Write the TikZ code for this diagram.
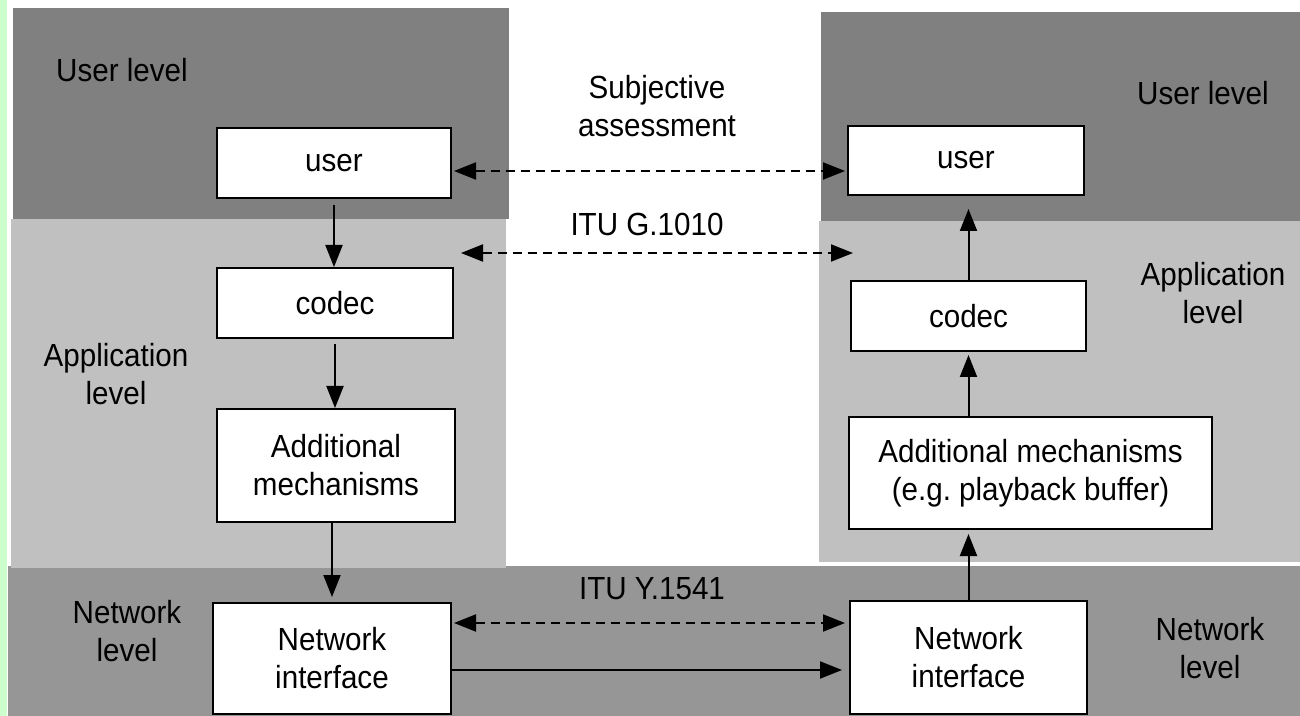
\documentclass[tikz,border=0pt]{standalone}
\usepackage{fontspec}
\setmainfont{Liberation Sans}[FakeStretch=0.925]
\usetikzlibrary{arrows.meta}
\definecolor{userband}{HTML}{808080}
\definecolor{appband}{HTML}{C0C0C0}
\definecolor{netband}{HTML}{969696}
\definecolor{greenstrip}{HTML}{CCFFCC}
\frenchspacing
\begin{document}
\begin{tikzpicture}[x=0.5pt,y=-0.5pt,
  font=\fontsize{16pt}{19pt}\selectfont,
  box/.style={draw=black, line width=1pt, fill=white, align=center, inner sep=0pt},
  conn/.style={line width=1pt, -{Triangle[length=11pt,width=8.5pt]}},
  dconn/.style={line width=1pt, dash pattern=on 4.5pt off 3pt,
     {Triangle[length=11pt,width=8.5pt]}-{Triangle[length=11pt,width=8.5pt]}},
  lbl/.style={align=center, inner sep=0pt}]
\useasboundingbox (0,0) rectangle (1300,716);
% background and bands
\fill[white] (0,0) rectangle (1300,716);
\fill[greenstrip] (0,0) rectangle (7,716);
\fill[netband] (8,566) rectangle (1300,716);
\fill[userband] (13,8) rectangle (509,219);
\fill[appband] (11,219) rectangle (506,568);
\fill[userband] (821,12) rectangle (1300,221);
\fill[appband] (819,221) rectangle (1300,562);
% level labels
\node[lbl] (lul) at (122,70) {User level};
\node[lbl] (rul) at (1203,93) {User level};
\node[lbl] (lal) at (116,374.5) {Application\\level};
\node[lbl] (ral) at (1213,293) {Application\\level};
\node[lbl] (lnl) at (127,631) {Network\\level};
\node[lbl] (rnl) at (1210,648) {Network\\level};
% middle labels
\node[lbl] (subj) at (657,106) {Subjective\\assessment};
\node[lbl] (g1010) at (647,224) {ITU G.1010};
\node[lbl] (y1541) at (652,589) {ITU Y.1541};
% boxes left
\node[box, minimum width=117pt, minimum height=35pt] (lu) at (334,163) {user};
\node[box, minimum width=118pt, minimum height=35pt] (lc) at (335,303) {codec};
\node[box, minimum width=119pt, minimum height=56.5pt] (la) at (336,465.5) {Additional\\mechanisms};
\node[box, minimum width=119pt, minimum height=55.5pt] (lni) at (332,658.5) {Network\\interface};
% boxes right
\node[box, minimum width=118pt, minimum height=34.5pt] (ru) at (966,160.5) {user};
\node[box, minimum width=117.5pt, minimum height=35pt] (rc) at (968.5,316) {codec};
\node[box, minimum width=181.5pt, minimum height=56pt] (ra) at (1030.5,473) {Additional mechanisms\\(e.g. playback buffer)};
\node[box, minimum width=118.5pt, minimum height=56.5pt] (rni) at (968.5,657.5) {Network\\interface};
% coordinates for horizontal connectors
\coordinate (sa) at (650,171);
\coordinate (ga) at (461,253);
\coordinate (gb) at (853,253);
\coordinate (ya) at (650,623);
\coordinate (sb) at (650,670);
% vertical connectors left
\draw[conn, shorten <=3pt] (lu.south) -- (lu.south |- lc.north);
\draw[conn, shorten <=2.5pt] (lc.south) -- (lc.south |- la.north);
\draw[conn, shorten >=2.5pt] (la.south -| lni.north) -- (lni.north);
% vertical connectors right
\draw[conn, shorten >=2pt] (rni.north) -- (rni.north |- ra.south);
\draw[conn, shorten >=1.5pt] (rc.south |- ra.north) -- (rc.south);
\draw[conn, shorten >=6.5pt] (rc.north) -- (rc.north |- ru.south);
% horizontal connectors
\draw[dconn, shorten <=1pt, shorten >=1pt] (lu.east |- sa) -- (ru.west |- sa);
\draw[dconn] (ga) -- (gb);
\draw[dconn, shorten <=1pt, shorten >=2pt] (lni.east |- ya) -- (rni.west |- ya);
\draw[conn, shorten >=3.5pt] (lni.east |- sb) -- (rni.west |- sb);
\end{tikzpicture}
\end{document}
